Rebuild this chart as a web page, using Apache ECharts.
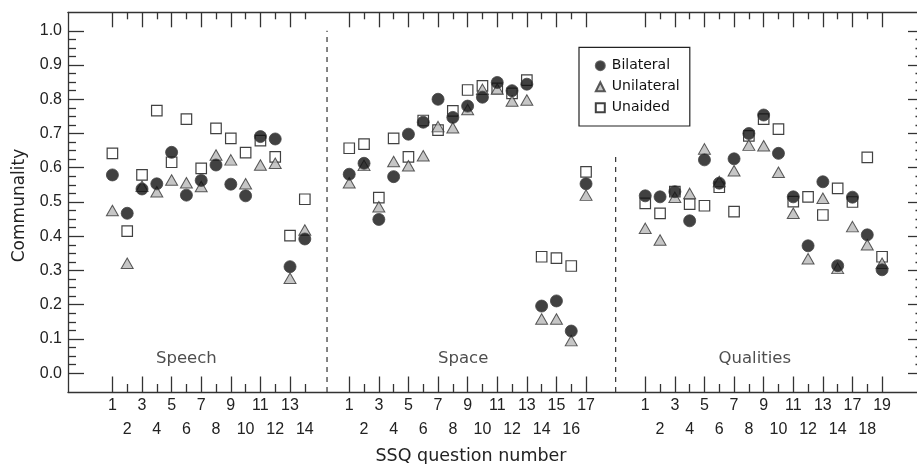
<!DOCTYPE html>
<html><head><meta charset="utf-8">
<script src="https://cdn.jsdelivr.net/npm/echarts@6/dist/echarts.min.js"></script>
<style>html,body{margin:0;padding:0;background:#fff}#c{width:917px;height:464px}</style>
</head><body><div id="c"></div>
<script>
// SSQ question numbers (tick labels) per group
const speechQ = [1,2,3,4,5,6,7,8,9,10,11,12,13,14];
const spaceQ  = [1,2,3,4,5,6,7,8,9,10,11,12,13,14,15,16,17];
const qualQ   = [1,2,3,4,5,6,7,8,9,10,11,12,13,14,17,18,19];

// Communality values
const speechBil = [0.579,0.467,0.538,0.553,0.645,0.520,0.563,0.608,0.552,0.518,0.691,0.684,0.311,0.392];
const speechUni = [0.475,0.321,0.546,0.530,0.564,0.556,0.545,0.637,0.623,0.553,0.608,0.613,0.277,0.418];
const speechUna = [0.642,0.415,0.579,0.767,0.616,0.742,0.598,0.715,0.686,0.644,0.679,0.632,0.402,0.508];

const spaceBil = [0.581,0.613,0.449,0.574,0.698,0.733,0.800,0.747,0.780,0.806,0.849,0.825,0.844,0.196,0.211,0.123,0.553];
const spaceUni = [0.556,0.607,0.486,0.618,0.606,0.635,0.720,0.717,0.770,0.829,0.830,0.795,0.798,0.158,0.158,0.095,0.520];
const spaceUna = [0.657,0.669,0.513,0.686,0.632,0.738,0.710,0.766,0.827,0.839,0.832,0.817,0.856,0.340,0.336,0.313,0.588];

const qualBil = [0.518,0.515,0.530,0.445,0.623,0.555,0.626,0.700,0.754,0.642,0.515,0.372,0.559,0.314,0.514,0.404,0.302];
const qualUni = [0.423,0.389,0.514,0.525,0.655,0.560,0.591,0.666,0.664,0.587,0.467,0.334,0.511,0.306,0.428,0.375,0.321];
const qualUna = [0.496,0.467,0.530,0.494,0.489,0.543,0.472,0.693,0.742,0.713,0.501,0.515,0.462,0.540,0.500,0.630,0.340];

// y tick labels
const yTicks = [0.0,0.1,0.2,0.3,0.4,0.5,0.6,0.7,0.8,0.9,1.0];
const groupNames = ['Speech','Space','Qualities'];

// ---- layout (slot positions on the x scale) ----
const groupStart = [0, 16, 36];
const dividerX = [14.5, 34];
const dividerTop = [1.0, 0.643];
const groupLabelX = [5.0, 23.7, 43.4];
const groupLabelY = 0.042;
const X_MIN = -3, X_MAX = 54.36, Y_MIN = -0.055, Y_MAX = 1.054;

const groups = [
  {q: speechQ, bil: speechBil, uni: speechUni, una: speechUna},
  {q: spaceQ,  bil: spaceBil,  uni: spaceUni,  una: spaceUna},
  {q: qualQ,   bil: qualBil,   uni: qualUni,   una: qualUna}
];

const longTicks = [], shortTicks = [], labelMap = {};
const bilData = [], uniData = [], unaData = [];
groups.forEach((g, gi) => {
  g.q.forEach((q, i) => {
    const p = groupStart[gi] + i;
    labelMap[p] = String(q);
    (i % 2 === 0 ? longTicks : shortTicks).push(p);
    bilData.push([p, g.bil[i]]);
    uniData.push([p, g.uni[i]]);
    unaData.push([p, g.una[i]]);
  });
});
const yMinor = [];
for (let k = 0; k < yTicks.length - 1; k++) {
  const a = yTicks[k], b = yTicks[k+1];
  for (let j = 1; j <= 3; j++) yMinor.push(+(a + (b - a) * j / 4).toFixed(4));
}

const AX = '#333';
const labFont = {fontFamily: 'Liberation Sans', fontSize: 16, color: '#222'};
function xAx(pos, ticks, len, showLine, labels, margin) {
  return {
    type: 'value', position: pos, min: X_MIN, max: X_MAX,
    axisLine: {show: showLine, onZero: false, lineStyle: {color: AX, width: 1.3}},
    axisTick: {show: true, inside: true, length: len, customValues: ticks, lineStyle: {color: AX, width: 1.3}},
    axisLabel: labels ? Object.assign({show: true, customValues: ticks, margin: margin,
      formatter: v => labelMap[Math.round(v)] || ''}, labFont) : {show: false},
    splitLine: {show: false}
  };
}
function yAx(pos, ticks, len, showLine, labels) {
  return {
    type: 'value', position: pos, min: Y_MIN, max: Y_MAX,
    axisLine: {show: showLine, onZero: false, lineStyle: {color: AX, width: 1.3}},
    axisTick: {show: true, inside: true, length: len, customValues: ticks, lineStyle: {color: AX, width: 1.3}},
    axisLabel: labels ? Object.assign({show: true, customValues: ticks, margin: 6,
      formatter: v => v.toFixed(1)}, labFont) : {show: false},
    splitLine: {show: false}
  };
}

const chart = echarts.init(document.getElementById('c'), null, {renderer: 'canvas'});
const series = [
  {name: 'Unaided', type: 'scatter', symbol: 'rect', symbolSize: 10.5, data: unaData, z: 3,
   itemStyle: {color: '#fff', borderColor: '#111', borderWidth: 1.2}},
  {name: 'Unilateral', type: 'scatter', symbol: 'triangle', symbolSize: [12, 10.5], data: uniData, z: 4,
   itemStyle: {color: '#b8b8b8', borderColor: '#333', borderWidth: 1}},
  {name: 'Bilateral', type: 'scatter', symbol: 'circle', symbolSize: 12, data: bilData, z: 5,
   itemStyle: {color: '#111', borderColor: '#444', borderWidth: 1}}
];
dividerX.forEach((x, i) => {
  series.push({type: 'line', data: [[x, Y_MIN], [x, dividerTop[i]]], symbol: 'none', silent: true, z: 2,
    lineStyle: {color: '#333', width: 1.2, type: [5, 5]}});
});
series.push({type: 'scatter', symbolSize: 0, silent: true, z: 6,
  data: groupNames.map((n, i) => ({name: n, value: [groupLabelX[i], groupLabelY]})),
  label: {show: true, position: 'inside', formatter: p => p.name,
    fontFamily: 'DejaVu Sans', fontSize: 16.5, color: '#222'}});

chart.setOption({
  animation: false,
  backgroundColor: '#fff',
  grid: {left: 68, top: 12.3, right: 0, height: 379.7, containLabel: false},
  xAxis: [
    xAx('bottom', longTicks, 15.5, true, true, 6),
    xAx('bottom', shortTicks, 8, false, true, 30),
    xAx('top', longTicks, 15, true, false),
    xAx('top', shortTicks, 7, false, false)
  ],
  yAxis: [
    yAx('left', yTicks, 16, true, true),
    yAx('left', yMinor, 8, false, false),
    yAx('right', yTicks, 9, false, false),
    yAx('right', yMinor, 1.5, false, false)
  ],
  legend: {
    data: ['Bilateral', 'Unilateral', 'Unaided'],
    orient: 'vertical', left: 579, top: 47.3,
    padding: [11.4, 10.2, 11.3, 15.8],
    itemWidth: 9, itemHeight: 9, itemGap: 7,
    borderColor: '#222', borderWidth: 1.2, selectedMode: false,
    textStyle: {fontFamily: 'DejaVu Sans', fontSize: 14, color: '#111', lineHeight: 14, padding: [0, 0, 0, 2]}
  },
  graphic: [
    {type: 'text', x: 20, y: 205.5, rotation: Math.PI / 2,
     style: {text: 'Communality', fontFamily: 'DejaVu Sans', fontSize: 17, fill: '#222',
             textAlign: 'center', textVerticalAlign: 'middle'}},
    {type: 'text', x: 471, y: 456.5,
     style: {text: 'SSQ question number', fontFamily: 'DejaVu Sans', fontSize: 17.5, fill: '#222',
             textAlign: 'center', textVerticalAlign: 'middle'}}
  ],
  series: series
});
</script>
</body></html>
